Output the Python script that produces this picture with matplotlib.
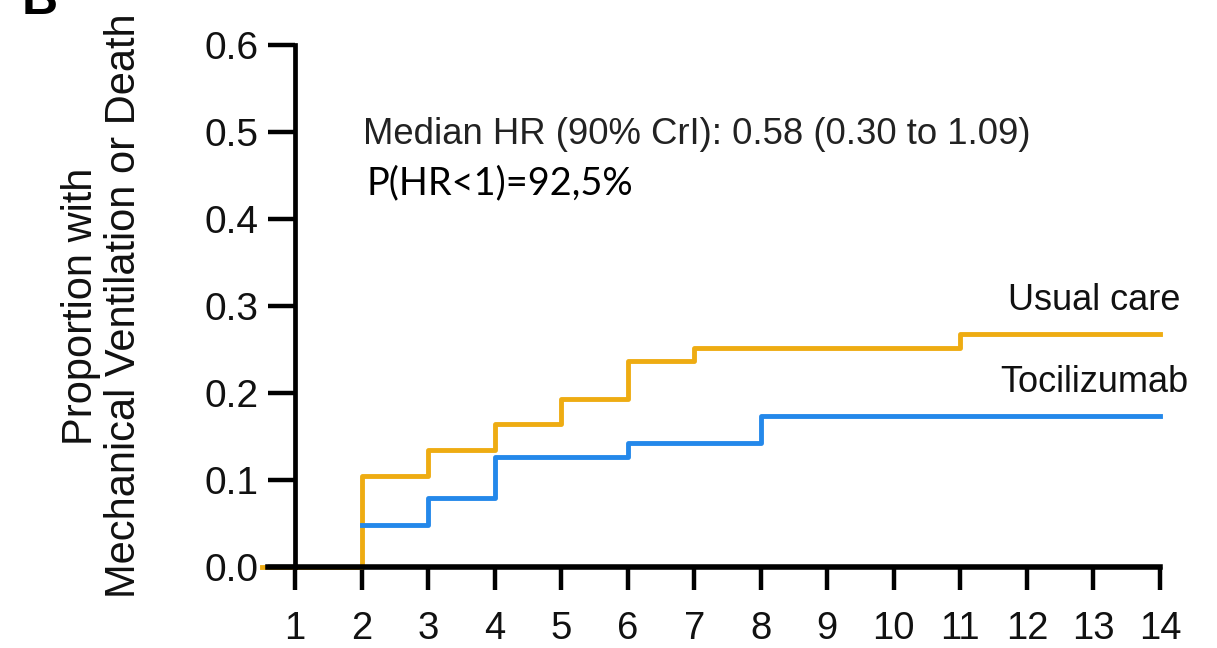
import matplotlib
matplotlib.use("Agg")
import matplotlib.pyplot as plt

# Data (step functions, value holds from each time onward)
usual_t = [0.5, 2, 3, 4, 5, 6, 7, 11, 14]
usual_p = [0.0, 0.105, 0.135, 0.164, 0.193, 0.237, 0.252, 0.268, 0.268]
toci_t = [2, 3, 4, 6, 8, 14]
toci_p = [0.048, 0.079, 0.127, 0.142, 0.174, 0.174]
xticks = list(range(1, 15))
yticks = [0.0, 0.1, 0.2, 0.3, 0.4, 0.5, 0.6]
ylabel = "Proportion with\nMechanical Ventilation or Death"
hr_text = "Median HR (90% CrI): 0.58 (0.30 to 1.09)"
p_text = "P(HR<1)=92,5%"

ORANGE = "#EEAC12"
BLUE = "#2488EA"

plt.rcParams['font.family'] = ['Liberation Sans', 'DejaVu Sans']

fig = plt.figure(figsize=(12.17, 6.48), dpi=100)
ax = fig.add_axes([0.2123, 0.0713, 0.7463, 0.8727])

ax.step(usual_t, usual_p, where='post', color=ORANGE, lw=3.5, zorder=2)
ax.step(toci_t, toci_p, where='post', color=BLUE, lw=3.5, zorder=2)

ax.set_xlim(0.45, 14.1)
ax.set_ylim(-0.04, 0.61)

for s in ['top', 'right']:
    ax.spines[s].set_visible(False)
ax.spines['left'].set_position(('data', 1))
ax.spines['bottom'].set_position(('data', 0))
ax.spines['left'].set_bounds(0, 0.6)
ax.spines['bottom'].set_bounds(0.6, 14)
ax.spines['left'].set_linewidth(3.4)
ax.spines['bottom'].set_linewidth(4.0)
ax.spines['left'].set_zorder(3)
ax.spines['bottom'].set_zorder(3)

ax.set_xticks(xticks)
ax.set_xticklabels([str(x) for x in xticks])
ax.set_yticks(yticks)
ax.set_yticklabels([f"{y:.1f}" for y in yticks])
ax.tick_params(axis='y', length=19.5, width=3.2, pad=7, labelsize=28, color='black')
ax.tick_params(axis='x', length=16.5, width=3.2, pad=15, labelsize=27.5, color='black')
for lbl in ax.get_yticklabels() + ax.get_xticklabels():
    lbl.set_color('#111111')

fig.text(102.5 / 1217, 0.528, ylabel, fontsize=30, rotation=90, ha='center', va='center',
         multialignment='center', linespacing=1.1, color='#111111')

ax.text(2.02, 0.497, hr_text, fontsize=26.3, color='#222222', ha='left', va='center')
ax.text(2.08, 0.441, p_text, fontsize=27.3, color='black', ha='left', va='center',
        family=['Lato', 'DejaVu Sans'])

ax.text(14.30, 0.2954, "Usual care", fontsize=26, color='#111111', ha='right', va='baseline')
ax.text(14.42, 0.201, "Tocilizumab", fontsize=26, color='#111111', ha='right', va='baseline')

fig.text(0.018, 1 - 14 / 648, "B", fontsize=36, fontweight='bold', ha='left', va='baseline')

fig.savefig("out.png", dpi=100)
